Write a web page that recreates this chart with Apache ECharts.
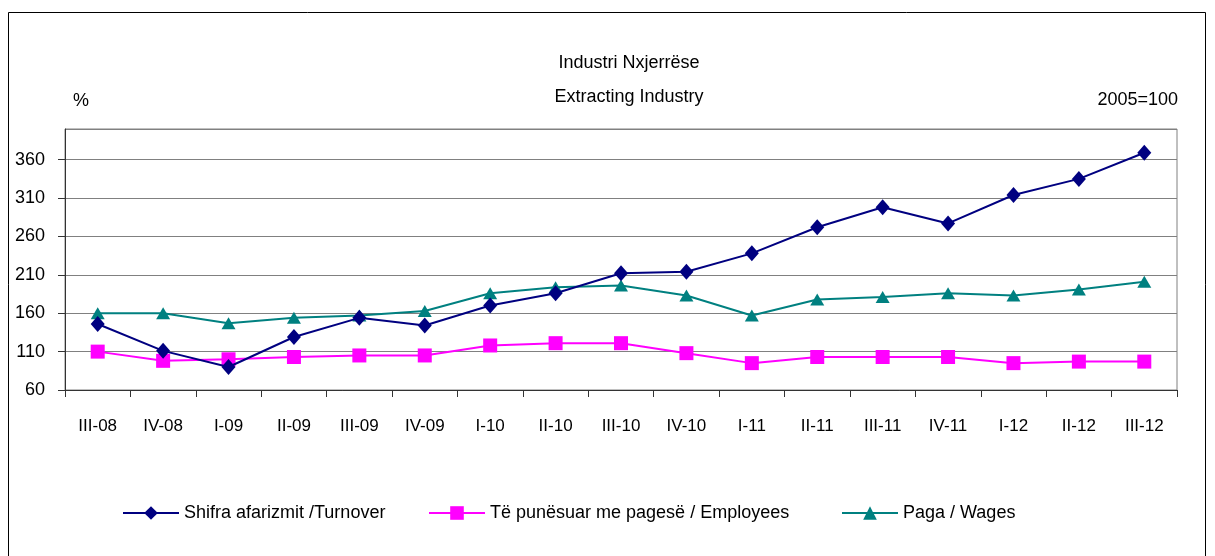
<!DOCTYPE html>
<html>
<head>
<meta charset="utf-8">
<script src="https://cdn.jsdelivr.net/npm/echarts@6/dist/echarts.min.js"></script>
<style>html,body{margin:0;padding:0;background:#fff}#c{width:1215px;height:556px}</style>
</head>
<body>
<div id="c"></div>
<script>
const categories = ['III-08','IV-08','I-09','II-09','III-09','IV-09','I-10','II-10','III-10','IV-10','I-11','II-11','III-11','IV-11','I-12','II-12','III-12'];
const turnover = [146,111,90,129,154,144,170,186,212,214,238,272,298,277,314,335,369];
const employees = [110,98,100,103,105,105,118,121,121,108,95,103,103,103,95,97,97];
const wages = [160,160,147,154,157,163,186,194,196,183,157,178,181,186,183,191,201];
const yTicks = {min:60, max:400, interval:50};
const seriesNames = ['Shifra afarizmit /Turnover','Të punësuar me pagesë / Employees','Paga / Wages'];

const F = '"Liberation Sans", Arial, sans-serif';
const chart = echarts.init(document.getElementById('c'), null, {renderer:'canvas'});
const legendBase = {top: 499, itemWidth: 56, itemHeight: 17, itemGap: 5, textStyle:{fontFamily:F, fontSize:18, color:'#000'}};
const tStyle = {fontFamily:F, fontSize:18, fontWeight:'normal', color:'#000'};
chart.setOption({
  animation:false,
  backgroundColor:'#fff',
  title:[
    {text:'Industri Nxjerrëse', left:624, top:49, textAlign:'center', textStyle:tStyle},
    {text:'Extracting Industry', left:624, top:83, textAlign:'center', textStyle:tStyle},
    {text:'%', left:68, top:87, textStyle:tStyle},
    {text:'2005=100', right:32, top:86, textStyle:tStyle}
  ],
  legend:[
    Object.assign({left:117, data:[seriesNames[0]]}, legendBase),
    Object.assign({left:423, data:[seriesNames[1]]}, legendBase),
    Object.assign({left:836, data:[seriesNames[2]]}, legendBase)
  ],
  grid:{left:65, right:38, top:129, bottom:166, show:true, borderColor:'#808080', borderWidth:1, containLabel:false},
  xAxis:{
    type:'category', data:categories, boundaryGap:true,
    axisLine:{lineStyle:{color:'#333', width:1}},
    axisTick:{show:true, interval:0, length:7, lineStyle:{color:'#333'}},
    axisLabel:{interval:0, margin:28, fontFamily:F, fontSize:17, color:'#000'}
  },
  yAxis:{
    type:'value', min:yTicks.min, max:yTicks.max, interval:yTicks.interval,
    axisLine:{show:true, lineStyle:{color:'#333', width:1}},
    axisTick:{show:true, length:7, lineStyle:{color:'#333'}},
    axisLabel:{showMaxLabel:false, margin:20, fontFamily:F, fontSize:18, color:'#000'},
    splitLine:{show:true, lineStyle:{color:'#808080', width:1}}
  },
  series:[
    {name:seriesNames[0], type:'line', data:turnover, symbol:'diamond', symbolSize:[14,16],
     itemStyle:{color:'#000080'}, lineStyle:{color:'#000080', width:2}, z:4},
    {name:seriesNames[1], type:'line', data:employees, symbol:'rect', symbolSize:14,
     itemStyle:{color:'#FF00FF'}, lineStyle:{color:'#FF00FF', width:2}, z:3},
    {name:seriesNames[2], type:'line', data:wages, symbol:'triangle', symbolSize:[14,12],
     itemStyle:{color:'#008080'}, lineStyle:{color:'#008080', width:2}, z:2}
  ],
  graphic:[
    {type:'rect', shape:{x:8.5, y:12.5, width:1197, height:580}, style:{fill:null, stroke:'#000', lineWidth:1}, silent:true}
  ]
});
</script>
</body>
</html>
